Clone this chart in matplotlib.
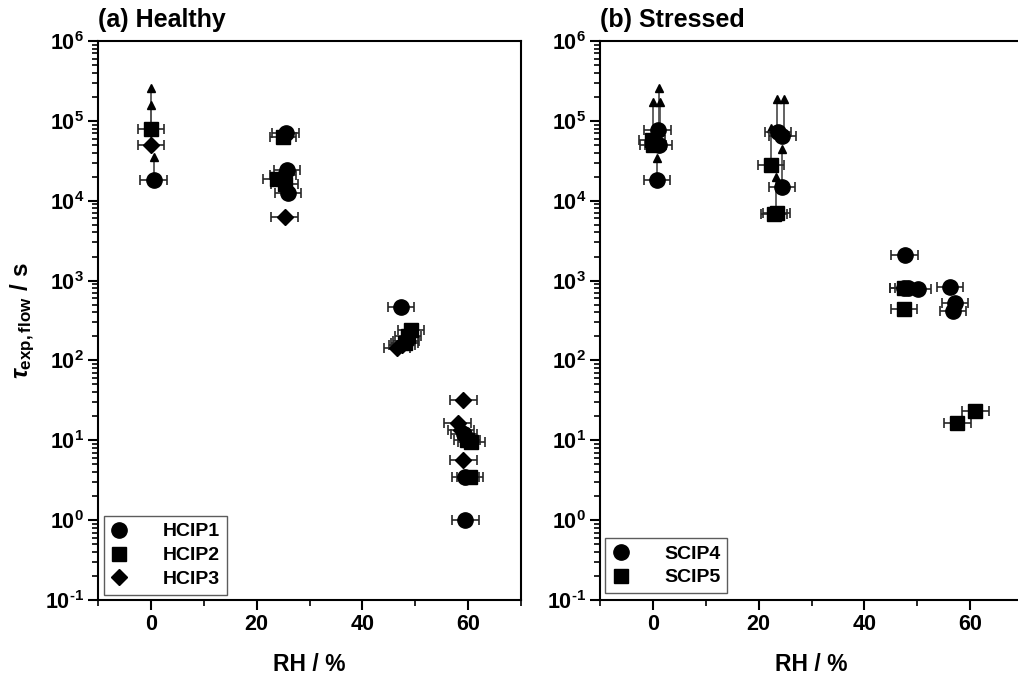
import matplotlib
matplotlib.use("Agg")
import matplotlib.pyplot as plt
from matplotlib.ticker import FixedLocator, FuncFormatter, LogLocator, NullFormatter
import numpy as np

plt.rcParams['font.family'] = ['Liberation Sans', 'DejaVu Sans']
plt.rcParams['font.weight'] = 'bold'
plt.rcParams['mathtext.fontset'] = 'custom'
plt.rcParams['mathtext.rm'] = 'Liberation Sans:bold'
plt.rcParams['mathtext.bf'] = 'Liberation Sans:bold'
plt.rcParams['mathtext.it'] = 'Liberation Sans:italic'
plt.rcParams['axes.unicode_minus'] = False

# ---------------- data: (a) Healthy ----------------
hcip1_x = [0.5, 25.5, 25.7, 25.9, 47.3, 48.2, 59.5, 59.5, 59.2]
hcip1_y = [1.8e4, 7.0e4, 2.4e4, 1.25e4, 470, 175, 3.5, 1.0, 12]
hcip2_x = [0.0, 25.0, 23.8, 25.3, 49.2, 48.6, 48.0, 59.8, 60.6, 60.4]
hcip2_y = [8.0e4, 6.3e4, 1.85e4, 1.6e4, 240, 200, 165, 10, 9.5, 3.5]
hcip3_x = [0.0, 25.3, 25.0, 46.5, 47.5, 58.0, 59.1, 59.1, 58.7]
hcip3_y = [5.0e4, 6.3e3, 2.1e4, 145, 155, 16.5, 32, 5.7, 13.5]
# lower-bound arrows: x, y_from, y_to
healthy_arrow_x = [0.5, 0.0, 0.0]
healthy_arrow_from = [1.8e4, 8.0e4, 5.0e4]
healthy_arrow_to = [3.5e4, 2.6e5, 1.6e5]

# ---------------- data: (b) Stressed ----------------
scip4_x = [0.8, 0.9, 1.1, 23.7, 24.5, 24.4, 47.6, 47.4, 48.3, 50.1, 56.2, 57.1, 56.8]
scip4_y = [1.8e4, 7.7e4, 5.0e4, 7.3e4, 6.5e4, 1.5e4, 2100, 800, 800, 780, 820, 520, 410]
scip5_x = [-0.2, 0.0, 22.3, 22.9, 23.4, 47.4, 47.5, 61.0, 57.6]
scip5_y = [5.8e4, 5.0e4, 2.8e4, 6.8e3, 7.0e3, 800, 440, 23, 16.5]
stressed_arrow_x = [0.75, 0.0, 1.1, 1.3, 23.5, 24.8, 22.3, 24.4, 23.3]
stressed_arrow_from = [1.8e4, 5.8e4, 7.7e4, 5.0e4, 7.3e4, 6.5e4, 2.8e4, 1.5e4, 7.0e3]
stressed_arrow_to = [3.4e4, 1.7e5, 2.6e5, 1.7e5, 1.9e5, 1.9e5, 8.1e4, 4.5e4, 2.0e4]

rh_err = 2.5
x_ticks = [0, 20, 40, 60]
y_decades = [-1, 0, 1, 2, 3, 4, 5, 6]

W, H = 1018, 682
fig = plt.figure(figsize=(W / 100, H / 100), dpi=100)
ax1 = fig.add_axes([98 / W, (H - 600) / H, 423 / W, 559 / H])
ax2 = fig.add_axes([600 / W, (H - 600) / H, 423 / W, 559 / H])

marker_kw = {'o': 11, 's': 9.5, 'D': 8.5}


def draw_series(ax, x, y, marker, label):
    ax.errorbar(x, y, xerr=rh_err, fmt='none', ecolor='#262626', elinewidth=1.2,
                capsize=3.5, capthick=1.2, zorder=3)
    ax.plot(x, y, linestyle='none', marker=marker, ms=marker_kw[marker], color='black',
            label=label, zorder=4)


def draw_arrows(ax, xs, y0s, y1s):
    for x, y0, y1 in zip(xs, y0s, y1s):
        ax.plot([x, x], [y0, y1], color='#555555', lw=1.3, zorder=2)
        ax.plot([x], [y1], marker='^', ms=6, color='black', linestyle='none', zorder=2.5)


draw_arrows(ax1, healthy_arrow_x, healthy_arrow_from, healthy_arrow_to)
draw_series(ax1, hcip1_x, hcip1_y, 'o', 'HCIP1')
draw_series(ax1, hcip2_x, hcip2_y, 's', 'HCIP2')
draw_series(ax1, hcip3_x, hcip3_y, 'D', 'HCIP3')

draw_arrows(ax2, stressed_arrow_x, stressed_arrow_from, stressed_arrow_to)
draw_series(ax2, scip4_x, scip4_y, 'o', 'SCIP4')
draw_series(ax2, scip5_x, scip5_y, 's', 'SCIP5')


def fmt_y(v, pos):
    e = int(round(np.log10(v)))
    if e < 0:
        return r'$\mathbf{10}^{\text{-}%d}$' % (-e)
    return r'$\mathbf{10^{%d}}$' % e


for ax, title in [(ax1, '(a) Healthy'), (ax2, '(b) Stressed')]:
    ax.set_yscale('log')
    ax.set_xlim(-10, 70)
    ax.set_ylim(1e-1, 1e6)
    ax.xaxis.set_major_locator(FixedLocator(x_ticks))
    ax.xaxis.set_minor_locator(FixedLocator([-10, 10, 30, 50, 70]))
    ax.yaxis.set_major_locator(FixedLocator([10.0 ** e for e in y_decades]))
    ax.yaxis.set_minor_locator(LogLocator(base=10, subs=np.arange(2, 10), numticks=20))
    ax.yaxis.set_major_formatter(FuncFormatter(fmt_y))
    ax.yaxis.set_minor_formatter(NullFormatter())
    ax.tick_params(axis='both', which='major', direction='out', length=7, width=1.5,
                   labelsize=15.5, pad=3)
    ax.tick_params(axis='both', which='minor', direction='out', length=4, width=1.2)
    for lab in ax.get_xticklabels():
        lab.set_fontweight('bold')
    for s in ax.spines.values():
        s.set_linewidth(1.5)
    ax.set_xlabel('RH / %', fontsize=16.5, fontweight='bold', labelpad=13)
    ax.text(0.0, 1.016, title, transform=ax.transAxes, fontsize=18, fontweight='bold',
            ha='left', va='bottom')

ax1.set_ylabel(r'$\tau_{\mathbf{exp,flow}}\mathbf{\ /\ s}$', fontsize=17.5, labelpad=6)

leg_kw = dict(loc='lower left', fontsize=14, frameon=True, fancybox=False,
              edgecolor='#333333', borderpad=0.35, handletextpad=1.8, labelspacing=0.32,
              handlelength=0.9, borderaxespad=0)
leg1 = ax1.legend(bbox_to_anchor=(0.014, 0.009), **leg_kw)
leg2 = ax2.legend(bbox_to_anchor=(0.012, 0.012), **leg_kw)
for leg in (leg1, leg2):
    leg.get_frame().set_linewidth(1.0)
    for t in leg.get_texts():
        t.set_fontweight('bold')

fig.savefig('out.png', dpi=100)
